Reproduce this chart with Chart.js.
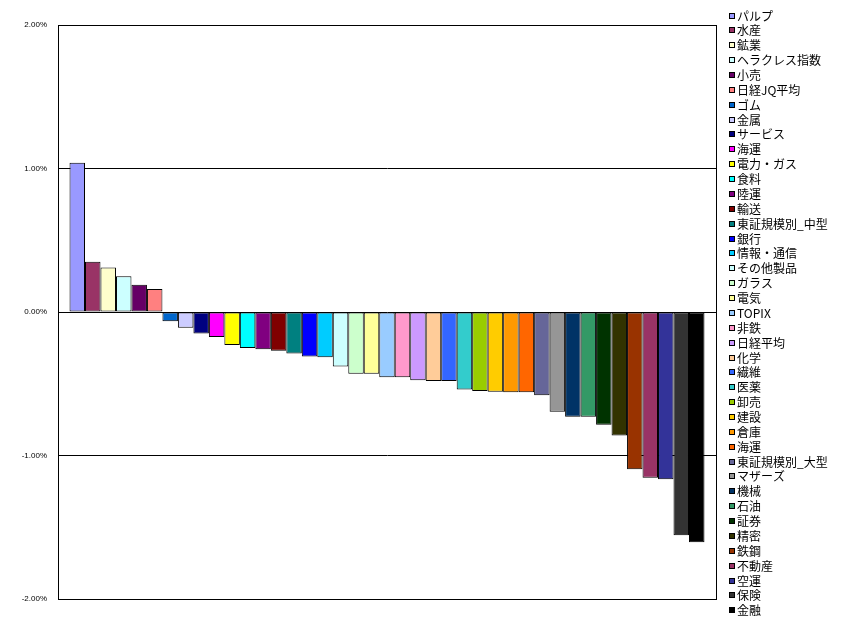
<!DOCTYPE html>
<html>
<head>
<meta charset="utf-8">
<title>業種別騰落率</title>
<script src="https://cdn.jsdelivr.net/npm/chart.js@4/dist/chart.umd.min.js"></script>
<style>
    body { margin: 0; background: #fff; }
</style>
</head>
<body>
<canvas id="sector-chart" width="841" height="629"></canvas>
<script>
const sectorNames = [
    'パルプ', '水産', '鉱業', 'ヘラクレス指数', '小売', '日経JQ平均', 'ゴム', '金属', 'サービス', '海運',
    '電力・ガス', '食料', '陸運', '輸送', '東証規模別_中型', '銀行', '情報・通信', 'その他製品', 'ガラス', '電気',
    'TOPIX', '非鉄', '日経平均', '化学', '繊維', '医薬', '卸売', '建設', '倉庫', '海運',
    '東証規模別_大型', 'マザーズ', '機械', '石油', '証券', '精密', '鉄鋼', '不動産', '空運', '保険',
    '金融'
];

// change in percent
const changes = [
    1.04, 0.35, 0.31, 0.25, 0.19, 0.16, -0.065, -0.11, -0.15, -0.175,
    -0.23, -0.25, -0.26, -0.27, -0.29, -0.31, -0.315, -0.38, -0.43, -0.43,
    -0.455, -0.455, -0.475, -0.48, -0.48, -0.54, -0.55, -0.555, -0.56, -0.56,
    -0.58, -0.695, -0.73, -0.73, -0.785, -0.86, -1.095, -1.155, -1.165, -1.555,
    -1.605
];

const barColors = [
    '#9999FF', '#993366', '#FFFFCC', '#CCFFFF', '#660066', '#FF8080', '#0066CC', '#CCCCFF', '#000080', '#FF00FF',
    '#FFFF00', '#00FFFF', '#800080', '#800000', '#008080', '#0000FF', '#00CCFF', '#CCFFFF', '#CCFFCC', '#FFFF99',
    '#99CCFF', '#FF99CC', '#CC99FF', '#FFCC99', '#3366FF', '#33CCCC', '#99CC00', '#FFCC00', '#FF9900', '#FF6600',
    '#666699', '#969696', '#003366', '#339966', '#003300', '#333300', '#993300', '#993366', '#333399', '#333333',
    '#000000'
];

const yTicks = [2, 1, 0, -1, -2];

// frame round the plot area
const plotBorder = {
    id: 'plotBorder',
    beforeDatasetsDraw(chart) {
        const { ctx, chartArea } = chart;
        ctx.save();
        ctx.strokeStyle = '#000';
        ctx.lineWidth = 1;
        ctx.strokeRect(Math.round(chartArea.left) + 0.5, Math.round(chartArea.top) + 0.5,
            Math.round(chartArea.right - chartArea.left), Math.round(chartArea.bottom - chartArea.top));
        ctx.restore();
    }
};

// excel style legend on the right
const sideLegend = {
    id: 'sideLegend',
    afterDraw(chart) {
        const ctx = chart.ctx;
        const startX = chart.chartArea.right + 13;
        ctx.save();
        ctx.font = '12px "Noto Sans CJK JP"';
        ctx.textBaseline = 'middle';
        ctx.lineWidth = 1;
        chart.data.datasets.forEach((ds, i) => {
            const y = Math.round(15.5 + i * 14.87);
            ctx.fillStyle = ds.backgroundColor;
            ctx.fillRect(startX, y - 3, 6, 6);
            ctx.strokeStyle = '#000';
            ctx.strokeRect(startX + 0.5, y - 2.5, 5, 5);
            ctx.fillStyle = '#000';
            ctx.fillText(ds.label, startX + 8, y);
        });
        ctx.restore();
    }
};

const datasets = sectorNames.map((name, i) => ({
    label: name,
    data: [changes[i]],
    backgroundColor: barColors[i],
    borderColor: '#000',
    borderWidth: 1,
    borderSkipped: false,
    barPercentage: 1,
    categoryPercentage: 0.965
}));

const ctx = document.getElementById('sector-chart').getContext('2d');
const sectorChart = new Chart(ctx, {
    type: 'bar',
    data: {
        labels: [''],
        datasets: datasets
    },
    options: {
        responsive: false,
        animation: false,
        layout: {
            padding: { top: 25, bottom: 30, left: 0, right: 125 }
        },
        plugins: {
            legend: { display: false },
            tooltip: { enabled: false }
        },
        scales: {
            x: {
                display: false
            },
            y: {
                min: -2,
                max: 2,
                afterBuildTicks: scale => {
                    scale.ticks = yTicks.map(v => ({ value: v }));
                },
                afterFit: scale => {
                    scale.width = 58;
                },
                ticks: {
                    padding: 11,
                    color: '#000',
                    font: { family: 'Liberation Sans', size: 8 },
                    callback: value => value.toFixed(2) + '%'
                },
                grid: {
                    color: '#000',
                    lineWidth: 1,
                    drawTicks: false
                },
                border: {
                    display: true,
                    color: '#000'
                }
            }
        }
    },
    plugins: [plotBorder, sideLegend]
});
</script>
</body>
</html>
